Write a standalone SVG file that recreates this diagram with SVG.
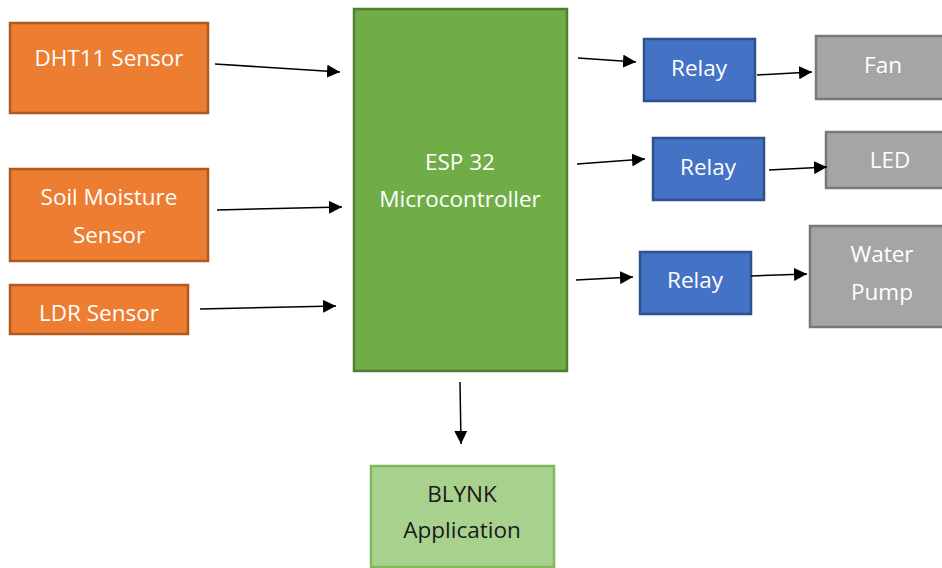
<svg xmlns="http://www.w3.org/2000/svg" width="942" height="568" viewBox="0 0 942 568">
<defs>
<marker id="ah" viewBox="0 0 10 10" refX="10" refY="5" markerWidth="13" markerHeight="13" markerUnits="userSpaceOnUse" orient="auto">
<path d="M0,0 L10,5 L0,10 z" fill="#000"/>
</marker>
</defs>
<style>
rect{stroke-width:2.5}
.or{fill:#ED7D31;stroke:#AE5A21}
.gr{fill:#70AD47;stroke:#507E32}
.bl{fill:#4472C4;stroke:#2F528F}
.gy{fill:#A5A5A5;stroke:#787878}
.lg{fill:#A9D18E;stroke:#7FB95A}
text{font-family:"Open Sans","Liberation Sans",sans-serif;font-size:22.5px;fill:#fff;text-anchor:middle}
.dk{fill:#1a1a1a}
.c line{stroke:#000;stroke-width:1.5;marker-end:url(#ah)}
</style>
<rect width="942" height="568" fill="#fff" style="stroke:none"/>
<g id="dht11"><rect class="or" x="10" y="23" width="198" height="90"/><text x="109" y="66">DHT11 Sensor</text></g>
<g id="soil"><rect class="or" x="10" y="169" width="198" height="92"/><text x="109" y="205">Soil Moisture</text><text x="109" y="243">Sensor</text></g>
<g id="ldr"><rect class="or" x="10" y="285" width="178" height="49"/><text x="99" y="321">LDR Sensor</text></g>
<g id="esp32"><rect class="gr" x="354" y="9" width="213" height="362"/><text x="460" y="170">ESP 32</text><text x="460" y="207">Microcontroller</text></g>
<g id="blynk"><rect class="lg" x="371" y="466" width="183" height="101"/><text class="dk" x="462" y="502">BLYNK</text><text class="dk" x="462" y="538">Application</text></g>
<g id="relay1"><rect class="bl" x="644" y="39" width="111" height="62"/><text x="699" y="76">Relay</text></g>
<g id="relay2"><rect class="bl" x="653" y="138" width="111" height="62"/><text x="708" y="175">Relay</text></g>
<g id="relay3"><rect class="bl" x="640" y="252" width="111" height="62"/><text x="695" y="288">Relay</text></g>
<g id="fan"><rect class="gy" x="816" y="36" width="130" height="63"/><text x="883" y="73">Fan</text></g>
<g id="led"><rect class="gy" x="826" y="132" width="120" height="56"/><text x="890" y="168">LED</text></g>
<g id="pump"><rect class="gy" x="810" y="226" width="136" height="101"/><text x="882" y="262">Water</text><text x="882" y="300">Pump</text></g>
<g class="c" id="connectors">
<line x1="215" y1="64" x2="340" y2="72"/>
<line x1="217" y1="210" x2="342" y2="207"/>
<line x1="200" y1="309" x2="336" y2="306"/>
<line x1="460" y1="382" x2="461" y2="444"/>
<line x1="578" y1="58" x2="636" y2="62"/>
<line x1="577" y1="164" x2="645" y2="159"/>
<line x1="576" y1="280" x2="633" y2="277"/>
<line x1="757" y1="75" x2="812" y2="72"/>
<line x1="769" y1="170" x2="827" y2="167"/>
<line x1="751" y1="276" x2="807" y2="274"/>
</g>
</svg>
